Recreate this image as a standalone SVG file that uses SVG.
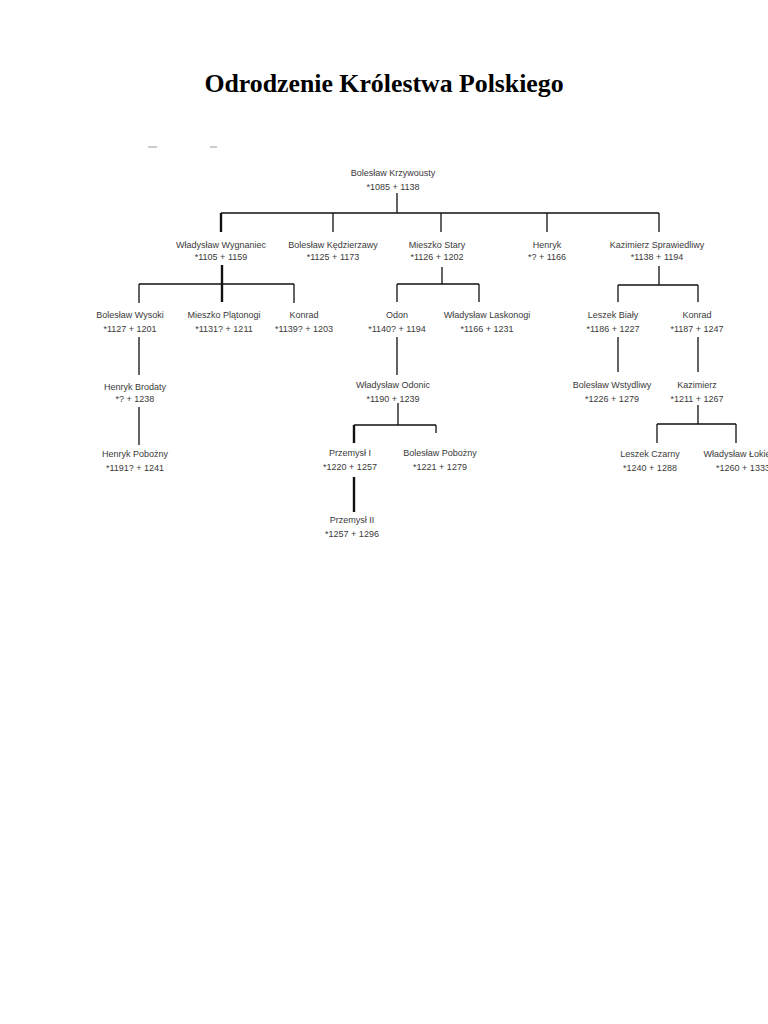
<svg xmlns="http://www.w3.org/2000/svg" width="768" height="1024" viewBox="0 0 768 1024">
<style>
.t{font-family:"Liberation Serif","Times New Roman",serif;font-weight:bold;font-size:25.8px;fill:#000}
.n{font-family:"Liberation Sans",Arial,sans-serif;font-size:9px;fill:#3a3a3a;text-anchor:middle}
.l{stroke:#111;stroke-width:1.3;fill:none}
.k{stroke:#111;stroke-width:2.4;fill:none}
.d{stroke:#999;stroke-width:1;fill:none}
</style>
<rect width="768" height="1024" fill="#fff"/>
<text class="t" x="384" y="92" text-anchor="middle">Odrodzenie Królestwa Polskiego</text>
<line class="d" x1="148" y1="147" x2="157" y2="147"/>
<line class="d" x1="210" y1="147" x2="217" y2="147"/>
<g id="connectors">
<path class="l" d="M397 193V213M221 213H659M333 213V232M441 213V232M547 213V232M659 213V232"/>
<path class="k" d="M221 213V232"/>
<path class="k" d="M222 265V302"/>
<path class="l" d="M139 284H294M139 284V303M294 284V303"/>
<path class="l" d="M442 267V284M397 284H479M397 284V302M479 284V302"/>
<path class="l" d="M659 266V285M618 285H698M618 285V302M698 285V302"/>
<path class="l" d="M139 337V375M139 407V445"/>
<path class="l" d="M397 337V375M398 403V425M354 425H436M436 425V433"/>
<path class="k" d="M354 425V443M354 477V512"/>
<path class="l" d="M618 337V372M698 337V372M698 405V424M657 424H736M657 424V443M736 424V443"/>
</g>
<g id="n0"><text class="n" x="393" y="176">Bolesław Krzywousty</text><text class="n" x="393" y="190">*1085 + 1138</text></g>
<g id="n1"><text class="n" x="221" y="248">Władysław Wygnaniec</text><text class="n" x="221" y="260">*1105 + 1159</text></g>
<g id="n2"><text class="n" x="333" y="248">Bolesław Kędzierzawy</text><text class="n" x="333" y="260">*1125 + 1173</text></g>
<g id="n3"><text class="n" x="437" y="248">Mieszko Stary</text><text class="n" x="437" y="260">*1126 + 1202</text></g>
<g id="n4"><text class="n" x="547" y="248">Henryk</text><text class="n" x="547" y="260">*? + 1166</text></g>
<g id="n5"><text class="n" x="657" y="248">Kazimierz Sprawiedliwy</text><text class="n" x="657" y="260">*1138 + 1194</text></g>
<g id="n6"><text class="n" x="130" y="318">Bolesław Wysoki</text><text class="n" x="130" y="332">*1127 + 1201</text></g>
<g id="n7"><text class="n" x="224" y="318">Mieszko Plątonogi</text><text class="n" x="224" y="332">*1131? + 1211</text></g>
<g id="n8"><text class="n" x="304" y="318">Konrad</text><text class="n" x="304" y="332">*1139? + 1203</text></g>
<g id="n9"><text class="n" x="397" y="318">Odon</text><text class="n" x="397" y="332">*1140? + 1194</text></g>
<g id="n10"><text class="n" x="487" y="318">Władysław Laskonogi</text><text class="n" x="487" y="332">*1166 + 1231</text></g>
<g id="n11"><text class="n" x="613" y="318">Leszek Biały</text><text class="n" x="613" y="332">*1186 + 1227</text></g>
<g id="n12"><text class="n" x="697" y="318">Konrad</text><text class="n" x="697" y="332">*1187 + 1247</text></g>
<g id="n13"><text class="n" x="135" y="390">Henryk Brodaty</text><text class="n" x="135" y="402">*? + 1238</text></g>
<g id="n14"><text class="n" x="393" y="388">Władysław Odonic</text><text class="n" x="393" y="402">*1190 + 1239</text></g>
<g id="n15"><text class="n" x="612" y="388">Bolesław Wstydliwy</text><text class="n" x="612" y="402">*1226 + 1279</text></g>
<g id="n16"><text class="n" x="697" y="388">Kazimierz</text><text class="n" x="697" y="402">*1211 + 1267</text></g>
<g id="n17"><text class="n" x="135" y="457">Henryk Pobożny</text><text class="n" x="135" y="471">*1191? + 1241</text></g>
<g id="n18"><text class="n" x="350" y="456">Przemysł I</text><text class="n" x="350" y="470">*1220 + 1257</text></g>
<g id="n19"><text class="n" x="440" y="456">Bolesław Pobożny</text><text class="n" x="440" y="470">*1221 + 1279</text></g>
<g id="n20"><text class="n" x="650" y="457">Leszek Czarny</text><text class="n" x="650" y="471">*1240 + 1288</text></g>
<g id="n21"><text class="n" x="743" y="457">Władysław Łokietek</text><text class="n" x="743" y="471">*1260 + 1333</text></g>
<g id="n22"><text class="n" x="352" y="523">Przemysł II</text><text class="n" x="352" y="537">*1257 + 1296</text></g>
</svg>
